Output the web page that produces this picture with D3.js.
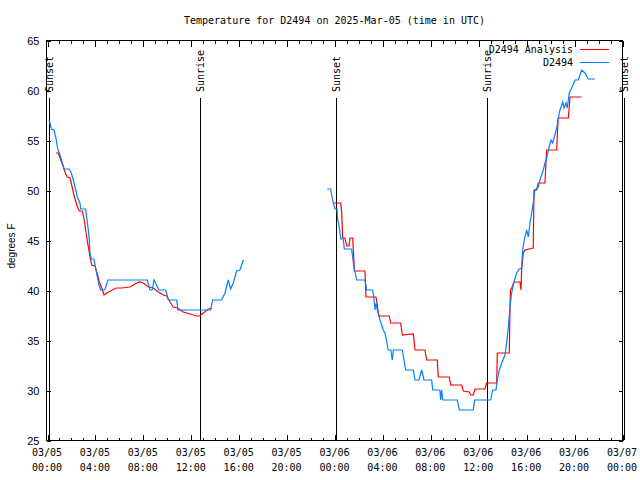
<!DOCTYPE html>
<html><head><meta charset="utf-8">
<script src="https://cdn.jsdelivr.net/npm/d3@7"></script>
<style>body{margin:0;background:#fff}svg{display:block}</style>
</head><body><svg id="c" width="640" height="480"></svg>
<script>
// ---------- data ----------
const titleText = "Temperature for D2494 on 2025-Mar-05 (time in UTC)";
const yLabelText = "degrees F";
const seriesNames = ["D2494 Analysis", "D2494"];
const seriesColors = ["#ff0000", "#0080ff"];
const yTickValues = [25, 30, 35, 40, 45, 50, 55, 60, 65];
const xMajorHours = [0, 4, 8, 12, 16, 20, 24, 28, 32, 36, 40, 44, 48];
const sunLabels = ["Sunset", "Sunrise", "Sunset", "Sunrise", "Sunset"];
const sunHours = [0.18, 12.77, 24.15, 36.73, 48.17];

// observations (hours after 2025-03-05 00:00 UTC, deg F)
const obsHours1 = [0.17,0.25,0.36,0.58,0.73,0.81,0.92,1.09,1.28,1.42,1.84,2.03,2.20,2.40,2.53,2.75,2.81,3.23,3.31,3.42,3.51,3.59,3.70,3.92,4.07,4.20,4.34,4.48,4.82,5.09,8.37,8.60,8.79,8.93,9.35,9.91,10.13,10.83,10.93,13.66,13.83,14.58,14.86,15.13,15.33,15.55,15.83,16.11,16.39];
const obsTemps1 = [57.0,56.7,56.1,56.0,55.3,54.7,54.0,53.5,52.7,52.1,52.1,51.7,51.0,50.0,49.3,48.7,48.1,48.1,47.3,46.3,45.3,43.7,43.1,43.1,42.1,41.3,40.5,40.0,40.0,41.0,41.0,40.0,40.0,41.0,40.0,40.0,39.0,39.0,38.0,38.0,39.0,39.0,39.7,41.0,40.1,40.7,41.9,42.0,43.0];
const obsHours2 = [23.40,23.68,23.76,23.90,24.04,24.21,24.27,24.37,24.46,24.52,24.73,24.82,25.43,25.52,25.63,25.71,25.85,26.54,26.69,27.19,27.30,27.38,27.46,27.57,27.71,27.80,27.94,28.07,28.21,28.30,28.41,28.49,28.71,28.82,28.91,29.66,29.80,29.94,30.58,30.72,31.05,31.28,31.47,32.11,32.20,32.80,32.86,32.95,33.03,34.25,34.42,35.58,35.70,37.04,37.20,37.48,37.59,37.76,37.96,38.23,38.37,38.51,38.65,38.79,38.98,39.21,39.42,39.62,39.71,39.84,40.04,40.18,40.32,40.46,40.59,40.73,41.01,41.15,41.43,41.57,41.71,41.85,42.07,42.21,42.35,42.55,42.63,42.82,43.05,43.16,43.32,43.43,43.60,43.80,44.07,44.35,44.63,44.91,45.18,45.74];
const obsTemps2 = [50.1,50.1,49.5,48.7,48.1,48.1,47.0,46.5,45.7,45.1,45.1,44.1,44.1,43.2,42.3,41.8,41.0,41.0,40.0,40.0,39.0,38.0,38.7,38.0,37.5,37.0,36.5,36.0,35.7,35.2,34.5,34.0,34.0,33.0,34.0,34.0,33.0,32.0,32.0,31.0,31.0,32.0,31.0,31.0,30.0,30.0,29.0,30.0,29.0,29.0,28.0,28.0,29.0,29.0,30.0,30.0,31.0,32.0,32.7,33.5,34.7,36.3,38.3,39.7,40.8,41.7,42.1,42.2,44.0,45.0,46.0,45.3,46.7,47.7,48.7,50.0,50.3,51.0,52.0,52.7,53.2,54.0,55.0,54.7,55.3,56.2,56.8,58.0,58.8,58.2,58.7,58.2,59.7,60.2,61.0,61.0,62.0,61.7,61.1,61.1];

// analysis
const anaHours1 = [0.75,0.94,1.09,1.31,1.50,1.69,1.92,2.06,2.25,2.48,2.70,2.95,3.11,3.26,3.45,3.59,3.73,4.01,4.15,4.37,4.57,4.76,4.98,5.32,5.76,6.24,6.93,7.35,7.70,8.04,8.46,8.87,9.29,9.71,9.99,10.27,10.54,10.88,11.38,11.94,12.50,12.77,13.05,13.46,13.75];
const anaTemps1 = [53.7,53.7,53.2,52.5,51.8,51.3,51.2,50.5,49.5,48.5,47.9,47.9,47.0,45.7,44.3,43.3,42.5,42.4,41.8,40.8,40.2,39.5,39.7,39.9,40.2,40.2,40.3,40.6,40.8,40.7,40.3,40.2,39.8,39.5,39.4,38.8,38.3,38.2,37.8,37.6,37.4,37.4,37.7,38.1,38.2];
const anaHours2 = [23.90,24.52,24.60,24.68,24.87,25.02,25.21,25.29,25.52,25.63,25.65,26.54,26.63,27.46,27.57,27.69,28.57,28.69,29.52,29.66,30.58,30.72,31.55,31.69,32.58,32.66,33.58,33.70,34.62,34.75,35.25,35.37,35.58,35.73,36.56,36.70,37.54,37.59,38.59,38.65,38.69,38.79,38.98,39.48,39.57,39.62,39.76,39.90,40.59,40.65,40.88,41.01,41.57,41.65,41.71,42.55,42.63,42.68,43.52,43.66,44.63];
const anaTemps2 = [48.7,48.7,47.8,45.2,45.2,44.4,44.4,45.2,45.2,42.7,41.9,41.9,39.3,39.3,38.5,37.4,37.4,36.7,36.7,35.5,35.6,34.0,34.0,33.0,33.0,31.3,31.3,30.5,30.5,29.9,29.8,29.5,29.5,30.1,30.1,30.7,30.7,33.7,33.7,38.2,40.0,40.2,40.8,40.8,40.0,42.0,43.7,44.0,44.2,50.0,50.0,50.7,50.7,52.7,54.0,54.0,56.3,57.2,57.2,59.3,59.3];

// ---------- drawing ----------
const base = Date.UTC(2025, 2, 5, 0, 0);
const toDate = h => new Date(base + h * 3600e3);
const svg = d3.select("#c");
const L = 47, R = 622, T = 40, B = 440;
const monoFont = "'DejaVu Sans Mono', monospace";
const sansFont = "'Liberation Sans', Arial, sans-serif";

const x = d3.scaleUtc().domain([toDate(0), toDate(48)]).range([L, R]);
const y = d3.scaleLinear().domain([25, 65]).range([B, T]);

svg.append("rect").attr("width", 640).attr("height", 480).attr("fill", "#fff");

// minor and major x ticks (bottom and top)
const minorAx = d3.axisBottom(x).ticks(d3.utcHour.every(1)).tickSize(-3).tickFormat("");
const majorAx = d3.axisBottom(x).tickValues(xMajorHours.map(toDate)).tickSize(-6).tickFormat("");
const minorTop = d3.axisTop(x).ticks(d3.utcHour.every(1)).tickSize(-3).tickFormat("");
const majorTop = d3.axisTop(x).tickValues(xMajorHours.map(toDate)).tickSize(-6).tickFormat("");
[[minorAx, B], [majorAx, B], [minorTop, T], [majorTop, T]].forEach(([ax, ty]) => {
  const g = svg.append("g").attr("transform", `translate(0.5,${ty + 0.5})`).call(ax);
  g.select(".domain").remove();
  g.selectAll("line").attr("stroke", "#000").attr("shape-rendering", "crispEdges");
});

// x tick labels (two lines)
const fmtD = d3.utcFormat("%m/%d"), fmtT = d3.utcFormat("%H:%M");
const xl = svg.append("g").attr("font-family", monoFont).attr("font-size", 10).attr("fill", "#000");
xMajorHours.map(toDate).forEach(d => {
  const t = xl.append("text").attr("text-anchor", "middle");
  t.append("tspan").attr("x", x(d)).attr("y", 456).text(fmtD(d));
  t.append("tspan").attr("x", x(d)).attr("y", 471).text(fmtT(d));
});

// y axes
const yAxL = d3.axisLeft(y).tickValues(yTickValues).tickSize(-4).tickPadding(7).tickFormat(d3.format("d"));
const gyl = svg.append("g").attr("transform", `translate(${L - 0.5},0.5)`).call(yAxL);
gyl.select(".domain").remove();
gyl.selectAll("line").attr("stroke", "#000").attr("shape-rendering", "crispEdges");
gyl.selectAll("text").attr("font-family", sansFont).attr("font-size", 11).attr("fill", "#000");
const yAxR = d3.axisRight(y).tickValues(yTickValues).tickSize(-4).tickFormat("");
const gyr = svg.append("g").attr("transform", `translate(${R + 0.5},0.5)`).call(yAxR);
gyr.select(".domain").remove();
gyr.selectAll("line").attr("stroke", "#000").attr("shape-rendering", "crispEdges");

// frame
svg.append("rect").attr("x", L - 0.5).attr("y", T + 0.5).attr("width", R - L + 1).attr("height", B - T)
  .attr("fill", "none").attr("stroke", "#000").attr("shape-rendering", "crispEdges");

// sunrise / sunset
sunHours.forEach((h, i) => {
  const px = Math.round(x(toDate(h))) + 0.5;
  svg.append("line").attr("x1", px).attr("x2", px).attr("y1", 98).attr("y2", B)
    .attr("stroke", "#000").attr("shape-rendering", "crispEdges");
  svg.append("text").attr("transform", `translate(${px + 3.5},92) rotate(-90)`)
    .attr("font-family", monoFont).attr("font-size", 10).attr("fill", "#000").text(sunLabels[i]);
});

// series
const line = d3.line().x(d => x(toDate(d[0]))).y(d => y(d[1]));
const zip = (a, b) => a.map((v, i) => [v, b[i]]);
const drawSeries = (hs, ts, col) => svg.append("path").datum(zip(hs, ts)).attr("d", line)
  .attr("fill", "none").attr("stroke", col).attr("stroke-width", 1.2);
drawSeries(anaHours1, anaTemps1, seriesColors[0]);
drawSeries(anaHours2, anaTemps2, seriesColors[0]);
drawSeries(obsHours1, obsTemps1, seriesColors[1]);
drawSeries(obsHours2, obsTemps2, seriesColors[1]);

// legend
seriesNames.forEach((n, i) => {
  const ly = 49.5 + i * 13;
  svg.append("text").attr("x", 573).attr("y", ly + 3.5).attr("text-anchor", "end")
    .attr("font-family", monoFont).attr("font-size", 10).attr("fill", "#000").text(n);
  svg.append("line").attr("x1", 580).attr("x2", 609).attr("y1", ly).attr("y2", ly)
    .attr("stroke", seriesColors[i]).attr("stroke-width", 1);
});

// title and y label
svg.append("text").attr("x", (L + R) / 2).attr("y", 24).attr("text-anchor", "middle")
  .attr("font-family", monoFont).attr("font-size", 10).attr("fill", "#000").text(titleText);
svg.append("text").attr("transform", `translate(15,246) rotate(-90)`).attr("text-anchor", "middle")
  .attr("font-family", sansFont).attr("font-size", 10).attr("fill", "#000").text(yLabelText);
</script></body></html>
